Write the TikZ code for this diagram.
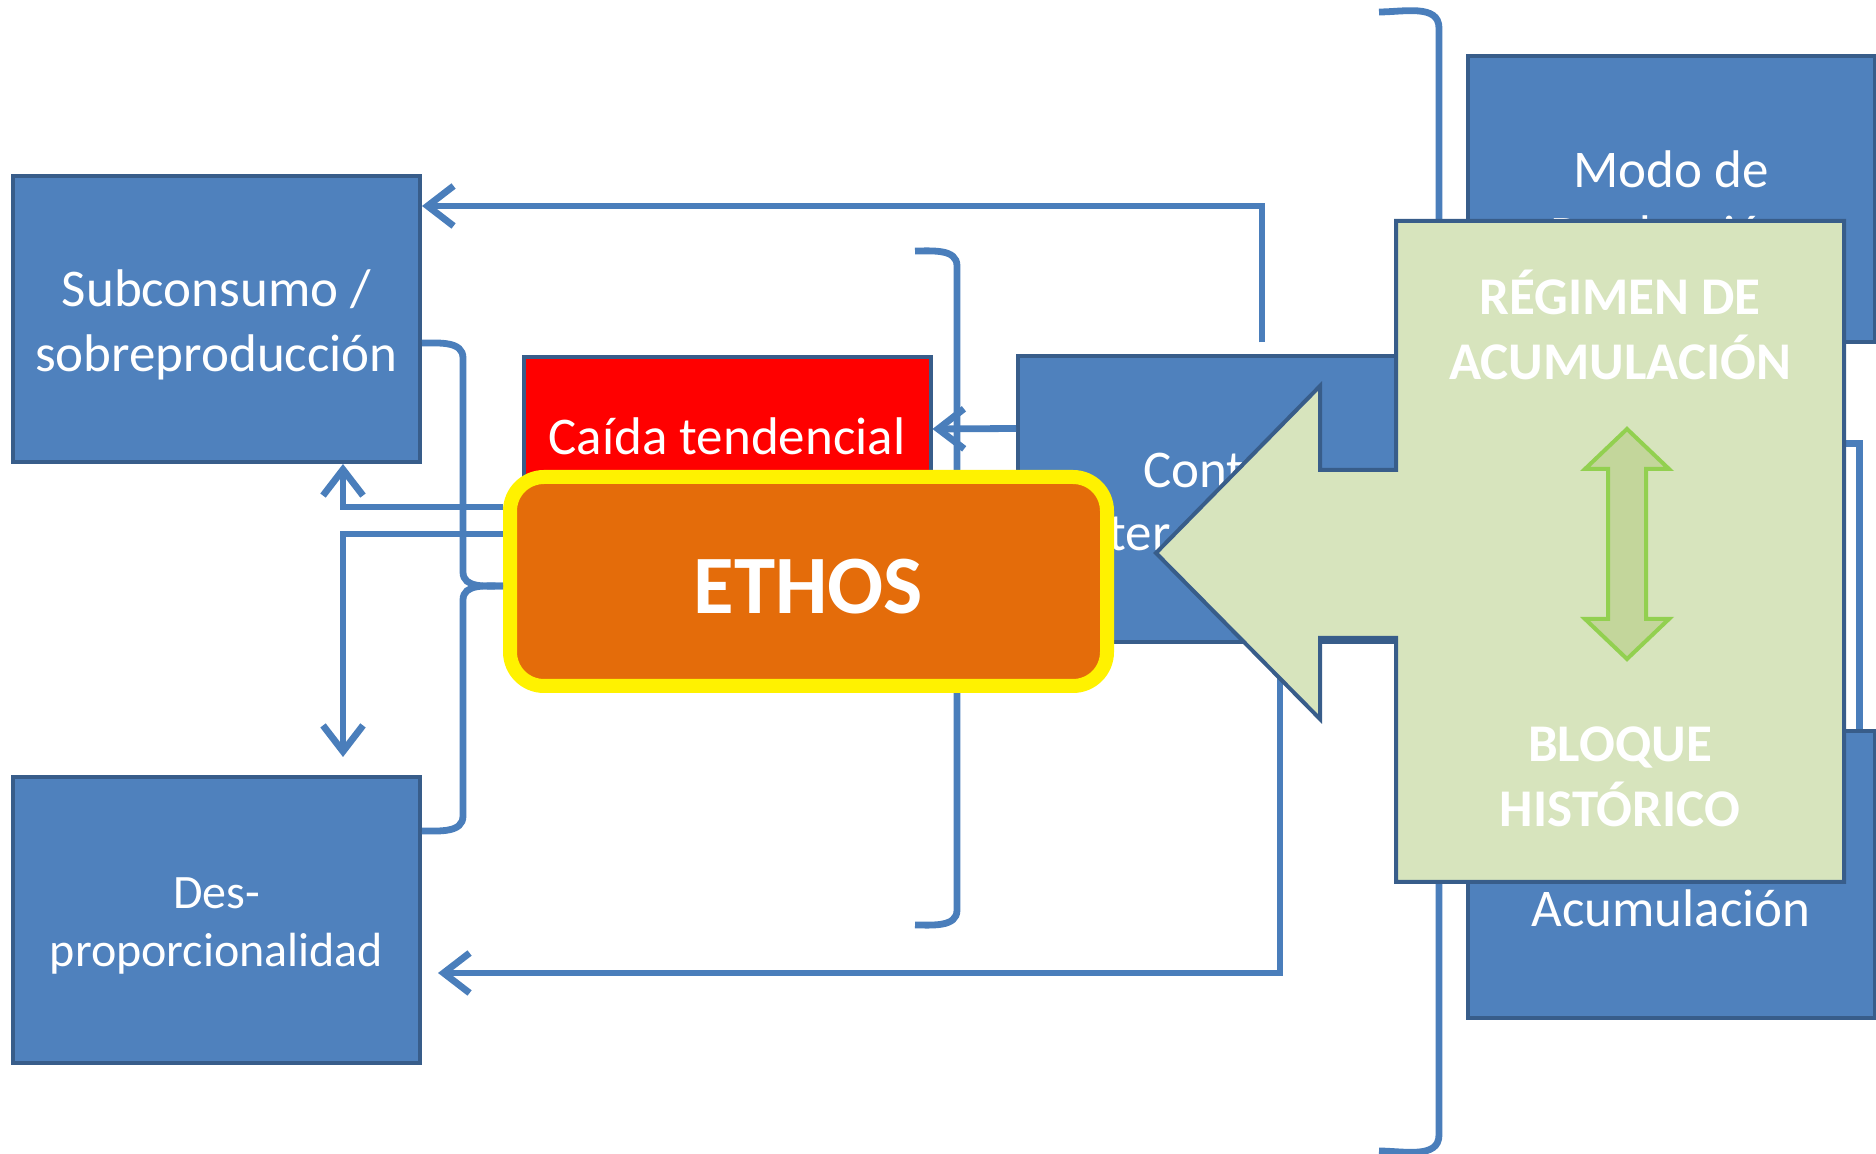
\documentclass[tikz,border=0pt]{standalone}
\usepackage{fontspec}
\setmainfont{Carlito}
\usetikzlibrary{calc,arrows.meta}

\definecolor{boxfill}{HTML}{4F81BD}
\definecolor{boxedge}{HTML}{385D8A}
\definecolor{linkblue}{HTML}{4A7EBB}
\definecolor{ethosfill}{HTML}{E46C0A}
\definecolor{calloutfill}{HTML}{D7E4BD}
\definecolor{dblfill}{HTML}{C3D69B}
\definecolor{dbledge}{HTML}{92D050}

\newcommand{\boxfont}{\fontsize{26.5}{32.5}\selectfont}
\newcommand{\smallboxfont}{\fontsize{24}{29.4}\selectfont}
\newcommand{\ethosfont}{\fontsize{41.5}{48}\selectfont\bfseries}

\tikzset{
  blockbox/.style = {draw=boxedge, fill=boxfill, line width=2pt, inner sep=0pt,
    minimum width=203.5pt, minimum height=143pt},
  boxtext/.style = {text=white, font=\boxfont, align=center, inner sep=0pt},
  greentext/.style = {text=white, font=\boxfont\bfseries, align=center, inner sep=0pt},
  ethosbox/.style = {draw=yellow, fill=ethosfill, line width=7pt, rounded corners=17pt,
    minimum width=298.5pt, minimum height=104.5pt, text=white, font=\ethosfont,
    inner sep=0pt, text height=31.8pt, text depth=0pt},
  link/.style = {draw=linkblue, line width=3.4pt, -{Straight Barb[length=13pt,width=20pt]}},
  bracket/.style = {draw=linkblue, line width=3.4pt},
  arrowbox/.style = {draw=boxedge, fill=calloutfill, line width=2pt},
  dblarrow/.style = {draw=dbledge, fill=dblfill, line width=2pt},
}

\begin{document}
\begin{tikzpicture}[x=0.5pt, y=-0.5pt]
  \useasboundingbox (0,0) rectangle (1876,1154);

  % boxes
  \node[blockbox] (sub) at (216.5,319) {};
  \node[boxtext] (subtext) at ($(sub.center)+(0,6)$) {Subconsumo /\\sobreproducción};
  \node[blockbox] (des) at (216.5,920) {};
  \node[boxtext, font=\smallboxfont] (destext) at ($(des.center)+(0,6)$) {Des-\\proporcionalidad};
  \node[blockbox, fill=red] (caida) at (727,500) {};
  \node[boxtext, anchor=base] (caidatext) at (727,455) {Caída tendencial};
  \node[blockbox] (contr) at (1221.5,499.5) {};
  \node[boxtext, anchor=base west] (contrtop) at (1143,488) {Cont};
  \node[boxtext, anchor=base west] (contrbot) at (1108,551) {ter};
  \node[blockbox] (modo) at (1671,199) {};
  \node[boxtext] (modotext) at ($(modo.center)+(0,3)$) {Modo de\\Producción};
  \node[blockbox] (acum) at (1671,874.5) {};
  \node[boxtext, anchor=base] (acumtext) at (1671,927) {Acumulación};

  % brackets
  \draw[bracket] (915,251) to[out=0,in=90] (957,266) -- (957,910) to[out=-90,in=0] (915,925);
  \draw[bracket] (1379,12) to[out=0,in=90] (1439,28) -- (1439,1135) to[out=-90,in=0] (1379,1151);
  \draw[bracket] ($(acum.north east)+(-17,0)$) -- ++(0,-286) -- ++(-60,0);

  % arrows
  \draw[link] ($(contr.north)+(40.5,-12)$) |- ($(sub.north east)+(0,32)$);
  \draw[link] ($(contr.north west)+(0,74)$) -- ($(caida.north east)+(0,74)$);
  \draw[link] ($(contr.south)+(58.5,0)$) |- ($(des.north east)+(16,198)$);

  \node[ethosbox] (ethos) at (808.5,581.5) {ETHOS};

  \draw[link] ($(ethos.west)+(0,-74.5)$) -| ($(sub.south west)+(332,0)$);
  \draw[link] ($(ethos.west)+(0,-47.5)$) -| ($(des.north west)+(332,-18)$);

  \coordinate (bracetip) at ($(ethos.west)+(0,4.5)$);
  \draw[bracket] ($(sub.east)+(0,24)$) to[out=0,in=90] (463,358) -- (463,572) to[out=-90,in=180] (bracetip);
  \draw[bracket] (bracetip) to[out=180,in=90] (463,600) -- (463,816) to[out=-90,in=0] ($(des.east)+(0,-89)$);

  % regimen / bloque
  \draw[arrowbox] (1396,221) -- (1844,221) -- (1844,882) -- (1396,882) -- (1396,638)
    -- (1320,638) -- (1320,719) -- (1156,553) -- (1320,386) -- (1320,470) -- (1396,470) -- cycle;
  \draw[dblarrow] (1627,429) -- (1669,469) -- (1646,469) -- (1646,619) -- (1669,619)
    -- (1627,659) -- (1585,619) -- (1608,619) -- (1608,469) -- (1585,469) -- cycle;
  \node[greentext] (regimen) at (1620,325) {RÉGIMEN DE\\ACUMULACIÓN};
  \node[greentext] (bloque) at (1620,777) {BLOQUE\\HISTÓRICO};
\end{tikzpicture}
\end{document}
